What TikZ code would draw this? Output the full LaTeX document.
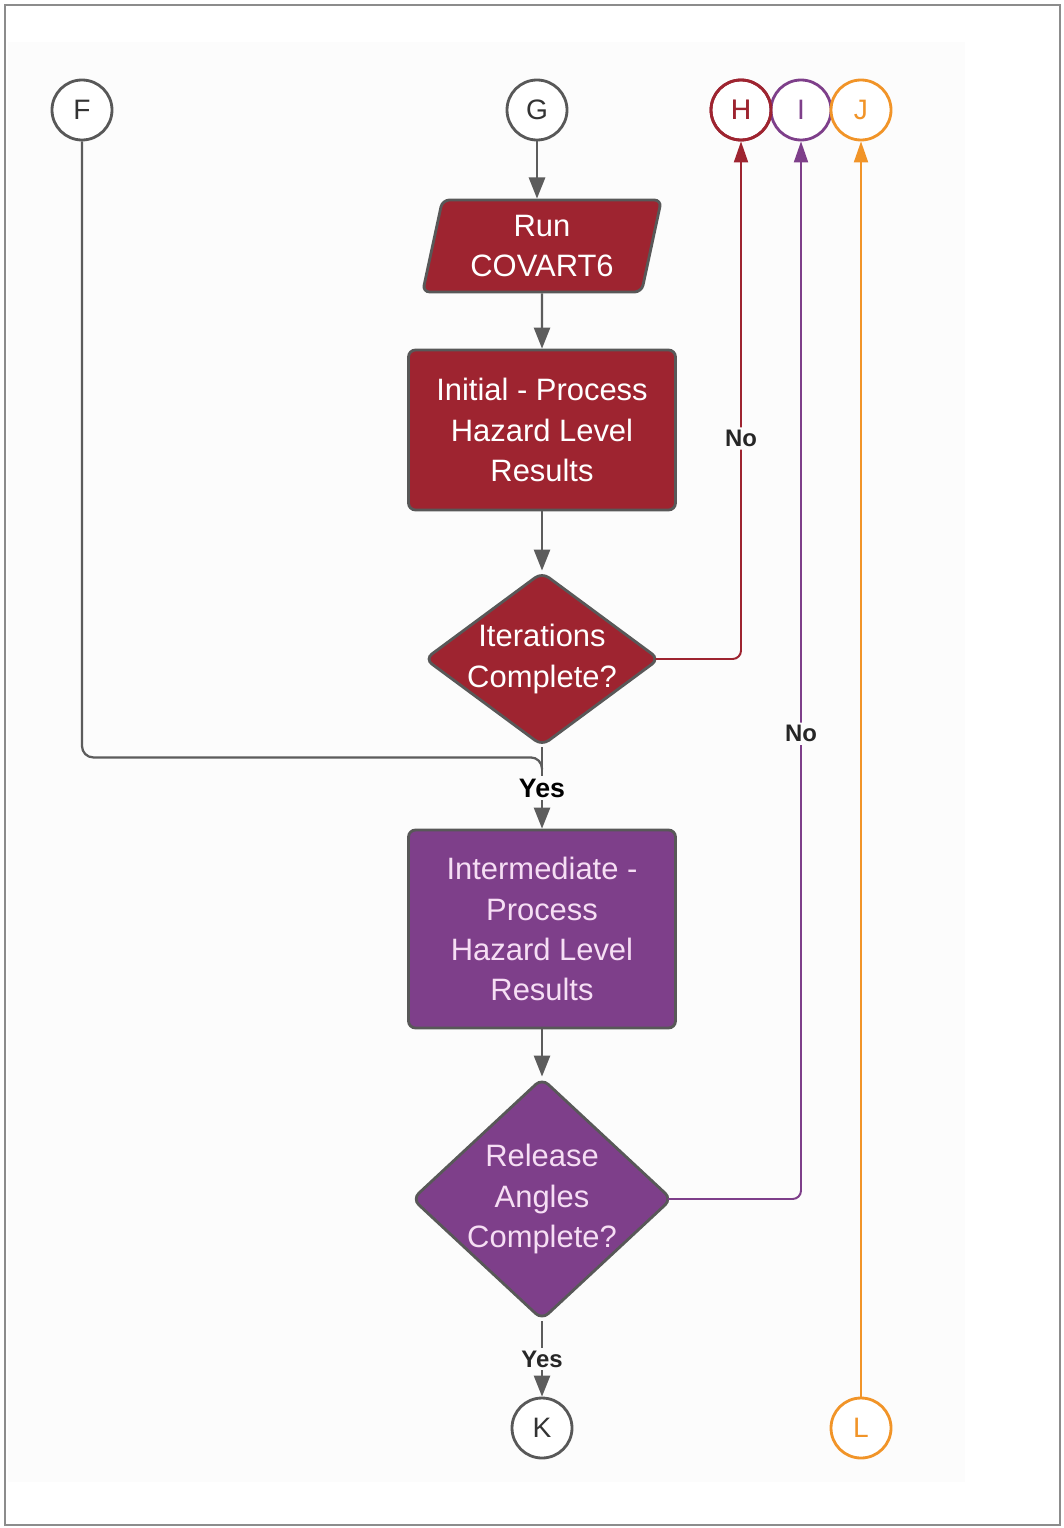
\documentclass[tikz,border=0pt]{standalone}
\usepackage{fontspec}
\setmainfont{Liberation Sans}
\usetikzlibrary{arrows.meta,positioning,shapes.geometric}
\definecolor{hazred}{RGB}{158,36,48}
\definecolor{hazpurple}{RGB}{126,63,138}
\definecolor{hazorange}{RGB}{241,148,40}
\definecolor{edgegray}{RGB}{88,88,88}
\definecolor{linegray}{RGB}{92,92,92}
\definecolor{framegray}{RGB}{140,140,140}
\definecolor{panel}{RGB}{252,252,252}
\definecolor{pinktext}{RGB}{246,222,244}

\begin{document}
\begin{tikzpicture}[
    conn/.style={draw=linegray, line width=1.6pt, -{Triangle[length=15pt,width=11.5pt]}},
    link/.style={line width=1.4pt, rounded corners=6pt, -{Triangle[length=15pt,width=10pt]}},
    box/.style={draw=edgegray, line width=2pt, rounded corners=5pt, align=center,
        text=white, font=\fontsize{22}{28.5}\selectfont, minimum width=6.675cm},
    dec/.style={diamond, draw=edgegray, line width=2pt, rounded corners=6pt, inner sep=0pt},
    dectxt/.style={align=center, font=\fontsize{22}{28.5}\selectfont},
    con/.style={circle, draw, line width=2pt, minimum size=1.5cm, inner sep=0pt,
        fill=white, font=\fontsize{20}{24}\selectfont},
    lbl/.style={fill=panel, inner sep=2pt, font=\bfseries\fontsize{17}{20}\selectfont}
]
\useasboundingbox (0,0) rectangle (26.575,-38.2);
% frame and panel
\fill[panel] (0.2,-1.05) rectangle (24.125,-37.05);
\draw[framegray, line width=2pt] (0.125,-0.125) rectangle (26.5,-38.125);

% off-page connectors
\node[con, draw=edgegray, text=black!80] (F) at (2.05,-2.75) {F};
\node[con, draw=edgegray, text=black!80] (G) at (13.425,-2.75) {G};
\node[con, draw=hazred, text=hazred] (H) at (18.525,-2.75) {H};
\node[con, draw=hazpurple, text=hazpurple] (I) at (20.025,-2.75) {I};
\node[con, draw=hazorange, text=hazorange] (J) at (21.525,-2.75) {J};
\node[con, draw=edgegray, text=black!80] (K) at (13.55,-35.7) {K};
\node[con, draw=hazorange, text=hazorange] (L) at (21.525,-35.7) {L};
% redraw H so its ring sits over I
\node[con, draw=hazred, text=hazred, fill=none] at (H) {H};

% main flow
\node[box, trapezium, trapezium left angle=77, trapezium right angle=103,
    trapezium stretches=true, minimum width=5.975cm, minimum height=2.3cm,
    inner sep=0pt, fill=hazred] (run) at (13.55,-6.15) {Run\\COVART6};
\node[box, fill=hazred, minimum height=4cm] (init) at (13.55,-10.75)
    {Initial - Process\\Hazard Level\\Results};
\node[dec, fill=hazred, minimum width=5.875cm, minimum height=4.35cm,
    label={[dectxt, text=white]center:Iterations\\Complete?}] (iter) at (13.55,-16.475) {};
\node[box, fill=hazpurple, text=pinktext, minimum height=4.95cm] (inter) at (13.55,-23.225)
    {Intermediate -\\Process\\Hazard Level\\Results};
\node[dec, fill=hazpurple, minimum width=6.5cm, minimum height=6.05cm,
    label={[dectxt, text=pinktext]center:Release\\Angles\\Complete?}] (rel) at (13.55,-29.975) {};

\coordinate (join) at ([yshift=-0.25cm]iter.south);

\draw[conn] (G) -- (G |- run.north);
\draw[conn] (run) -- (init);
\draw[conn] (init) -- (iter);
\draw[conn] (iter) -- node[lbl, font=\bfseries\fontsize{19}{22}\selectfont, text=black] {Yes} (inter);
\draw[conn] (inter) -- (rel);
\draw[conn] (rel) -- node[lbl, text=black!85] {Yes} (K);
\draw[linegray, line width=1.6pt, rounded corners=8pt] (F) |- (join) -- ++(0,-0.3);

% loop-back links
\draw[link, hazred] ([xshift=-4pt]iter.east) -| node[lbl, pos=0.713, text=black!85] {No} (H);
\draw[link, hazpurple] ([xshift=-4pt]rel.east) -| node[lbl, pos=0.72, text=black!85] {No} (I);
\draw[link, hazorange] (L) -- (J);
\end{tikzpicture}
\end{document}
